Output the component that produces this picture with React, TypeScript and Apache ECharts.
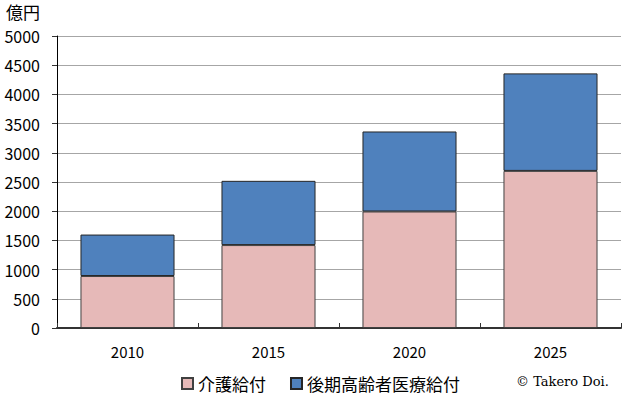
import React, { useEffect, useRef } from "react";
import * as echarts from "echarts";

const categories = ["2010", "2015", "2020", "2025"];
const kaigoValues = [890, 1420, 1995, 2690];
const kokiValues = [710, 1100, 1370, 1670];
const yTicks = { min: 0, max: 5000, interval: 500 };
const unitLabel = "億円";
const credit = "© Takero Doi.";

const FONT = "'Noto Sans CJK JP', 'Noto Sans', sans-serif";

export default function App() {
  const ref = useRef<HTMLDivElement>(null);
  useEffect(() => {
    if (!ref.current) return;
    const chart = echarts.init(ref.current, undefined, { renderer: "svg" });
    chart.setOption({
      animation: false,
      backgroundColor: "#ffffff",
      textStyle: { fontFamily: FONT },
      grid: { left: 57, right: 22, top: 36, bottom: 81 },
      legend: {
        bottom: 12,
        left: 176,
        itemWidth: 11,
        itemHeight: 11,
        itemGap: 24,
        icon: "rect",
        textStyle: { fontSize: 17, color: "#000", fontFamily: FONT },
        data: ["介護給付", "後期高齢者医療給付"],
      },
      xAxis: {
        type: "category",
        data: categories,
        axisLine: { lineStyle: { color: "#333", width: 2 } },
        axisTick: { show: true, inside: true, length: 5, lineStyle: { color: "#333" } },
        axisLabel: { fontSize: 15, color: "#000", margin: 16, fontFamily: FONT },
      },
      yAxis: {
        type: "value",
        min: yTicks.min,
        max: yTicks.max,
        interval: yTicks.interval,
        axisLine: { show: true, lineStyle: { color: "#000", width: 1 } },
        axisTick: { show: true, length: 5, lineStyle: { color: "#333" } },
        axisLabel: {
          fontSize: 16,
          color: "#000",
          margin: 17,
          fontFamily: FONT,
          formatter: (v: number) => String(v),
        },
        splitLine: { lineStyle: { color: "#a6a6a6", width: 1 } },
      },
      graphic: [
        {
          type: "text",
          left: 6,
          top: 3,
          style: { text: unitLabel, fontSize: 17, fill: "#000", fontFamily: FONT },
        },
        {
          type: "text",
          left: 516,
          top: 375,
          style: {
            text: credit,
            fontSize: 13,
            fill: "#000",
            fontFamily: "'DejaVu Serif', 'Liberation Serif', serif",
          },
        },
      ],
      series: [
        {
          name: "介護給付",
          type: "bar",
          stack: "total",
          data: kaigoValues,
          barWidth: "66.7%",
          itemStyle: { color: "#E6B9B8", borderColor: "#404040", borderWidth: 1 },
        },
        {
          name: "後期高齢者医療給付",
          type: "bar",
          stack: "total",
          data: kokiValues,
          barWidth: "66.7%",
          itemStyle: { color: "#4F81BD", borderColor: "#262626", borderWidth: 1 },
        },
      ],
    });
    return () => chart.dispose();
  }, []);
  return (
    <div
      ref={ref}
      style={{ position: "fixed", left: 0, top: 0, width: 643, height: 409 }}
    />
  );
}
